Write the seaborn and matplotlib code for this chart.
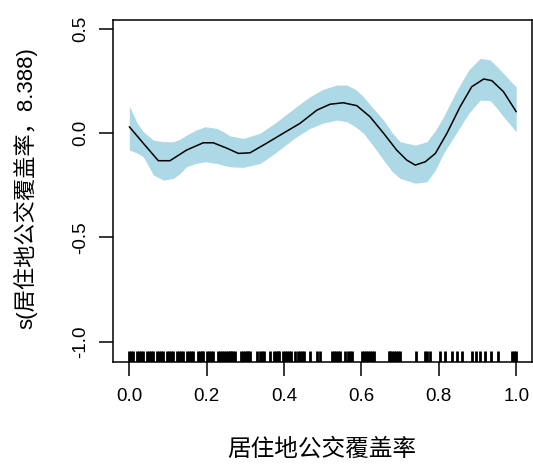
import numpy as np
import pandas as pd
import matplotlib
matplotlib.use("Agg")
import matplotlib.pyplot as plt
import seaborn as sns

# fitted smooth
curve_x = [0.000, 0.036, 0.075, 0.105, 0.148, 0.191, 0.217, 0.252, 0.282, 0.312,
           0.355, 0.398, 0.441, 0.485, 0.519, 0.553, 0.588, 0.622, 0.657, 0.691,
           0.717, 0.739, 0.765, 0.791, 0.821, 0.855, 0.885, 0.916, 0.937, 0.967, 1.000]
curve_y = [0.031, -0.048, -0.132, -0.132, -0.081, -0.046, -0.046, -0.072, -0.097, -0.094,
           -0.048, 0.000, 0.047, 0.111, 0.139, 0.146, 0.132, 0.079, 0.000, -0.081,
           -0.129, -0.153, -0.137, -0.097, 0.000, 0.127, 0.223, 0.260, 0.252, 0.199, 0.103]

# confidence band
band_x = [0.000, 0.020, 0.036, 0.062, 0.088, 0.114, 0.130, 0.148, 0.172, 0.196, 0.226, 0.245,
          0.260, 0.295, 0.338, 0.370, 0.398, 0.430, 0.467, 0.500, 0.536, 0.562, 0.585, 0.605,
          0.630, 0.657, 0.680, 0.700, 0.739, 0.769, 0.790, 0.812, 0.845, 0.877, 0.907, 0.933,
          0.950, 0.967, 0.985, 1.000]
band_upper = [0.130, 0.050, 0.007, -0.033, -0.041, -0.041, -0.030, -0.009, 0.015, 0.031, 0.023,
              0.005, -0.013, -0.025, 0.000, 0.040, 0.079, 0.125, 0.175, 0.210, 0.231, 0.231,
              0.210, 0.175, 0.120, 0.063, 0.000, -0.041, -0.057, -0.041, 0.010, 0.079, 0.200,
              0.303, 0.359, 0.351, 0.320, 0.287, 0.250, 0.223]
band_lower = [-0.081, -0.095, -0.113, -0.200, -0.225, -0.217, -0.195, -0.161, -0.145, -0.137,
              -0.145, -0.155, -0.161, -0.164, -0.145, -0.105, -0.065, -0.020, 0.023, 0.048,
              0.063, 0.055, 0.030, 0.000, -0.060, -0.129, -0.185, -0.217, -0.240, -0.233,
              -0.180, -0.097, 0.000, 0.095, 0.159, 0.156, 0.120, 0.079, 0.040, 0.007]

# rug (observed x positions)
rug_dense = [0.000, 0.005, 0.010, 0.020, 0.025, 0.030, 0.035, 0.045, 0.050, 0.055, 0.060,
             0.071, 0.076, 0.081, 0.086, 0.097, 0.102, 0.107, 0.112, 0.123, 0.128, 0.133,
             0.138, 0.149, 0.154, 0.159, 0.164, 0.177, 0.182, 0.187, 0.191, 0.201, 0.206,
             0.211, 0.216, 0.229, 0.234, 0.239, 0.244, 0.249, 0.254, 0.259, 0.264, 0.269, 0.274]
rug_sparse = [0.288, 0.293, 0.298, 0.303, 0.308, 0.313, 0.329, 0.338, 0.343, 0.348, 0.364,
              0.373, 0.378, 0.383, 0.388, 0.398, 0.403, 0.408, 0.413, 0.418, 0.429, 0.437,
              0.442, 0.447, 0.452, 0.467, 0.485, 0.493, 0.524, 0.529, 0.534, 0.539, 0.544,
              0.557, 0.565, 0.571, 0.576, 0.602, 0.607, 0.612, 0.617, 0.622, 0.627, 0.632,
              0.670, 0.675, 0.680, 0.685, 0.690, 0.695, 0.699, 0.740, 0.765, 0.770, 0.776,
              0.802, 0.815, 0.833, 0.846, 0.859, 0.886, 0.896, 0.907, 0.920, 0.935, 0.953,
              0.990, 0.995, 1.000]

x_ticks = [0.0, 0.2, 0.4, 0.6, 0.8, 1.0]
x_tick_labels = ["0.0", "0.2", "0.4", "0.6", "0.8", "1.0"]
y_ticks = [-1.0, -0.5, 0.0, 0.5]
y_tick_labels = ["-1.0", "-0.5", "0.0", "0.5"]
x_label = "居住地公交覆盖率"
y_label = "s(居住地公交覆盖率，8.388)"

sns.set_theme(style="white")
plt.rcParams["font.family"] = ["Liberation Sans", "Noto Sans CJK SC"]

fig = plt.figure(figsize=(5.33, 4.65), dpi=100)
ax = fig.add_axes([0.2114, 0.2222, 0.7862, 0.7348])

ax.fill_between(band_x, band_lower, band_upper, color="#ADD8E6", lw=0, zorder=1)
sns.lineplot(x=curve_x, y=curve_y, color="black", lw=1.1, ax=ax, zorder=2)
rug = pd.DataFrame({"x": rug_dense + rug_sparse})
sns.rugplot(data=rug, x="x", height=0.032, color="black", linewidth=2.0, ax=ax,
            expand_margins=False)

ax.set_xlim(-0.043, 1.04)
ax.set_ylim(-1.096, 0.543)

for s in ax.spines.values():
    s.set_color("black")
    s.set_linewidth(1.1)

ax.set_xticks(x_ticks)
ax.set_xticklabels(x_tick_labels)
ax.set_yticks(y_ticks)
ax.set_yticklabels(y_tick_labels, rotation=90, va="center")
ax.tick_params(axis="both", which="major", direction="out", length=10, width=1.1,
               color="black", labelsize=13.5, labelcolor="black",
               bottom=True, left=True, top=False, right=False)
ax.tick_params(axis="x", pad=9)
ax.tick_params(axis="y", pad=7)

ax.set_xlabel(x_label, fontsize=17, color="black")
ax.xaxis.set_label_coords(0.5, -0.225)
ax.set_ylabel(y_label, fontsize=16, color="black")
ax.yaxis.set_label_coords(-0.18, 0.507)

fig.savefig("out.png", dpi=100, facecolor="white")
